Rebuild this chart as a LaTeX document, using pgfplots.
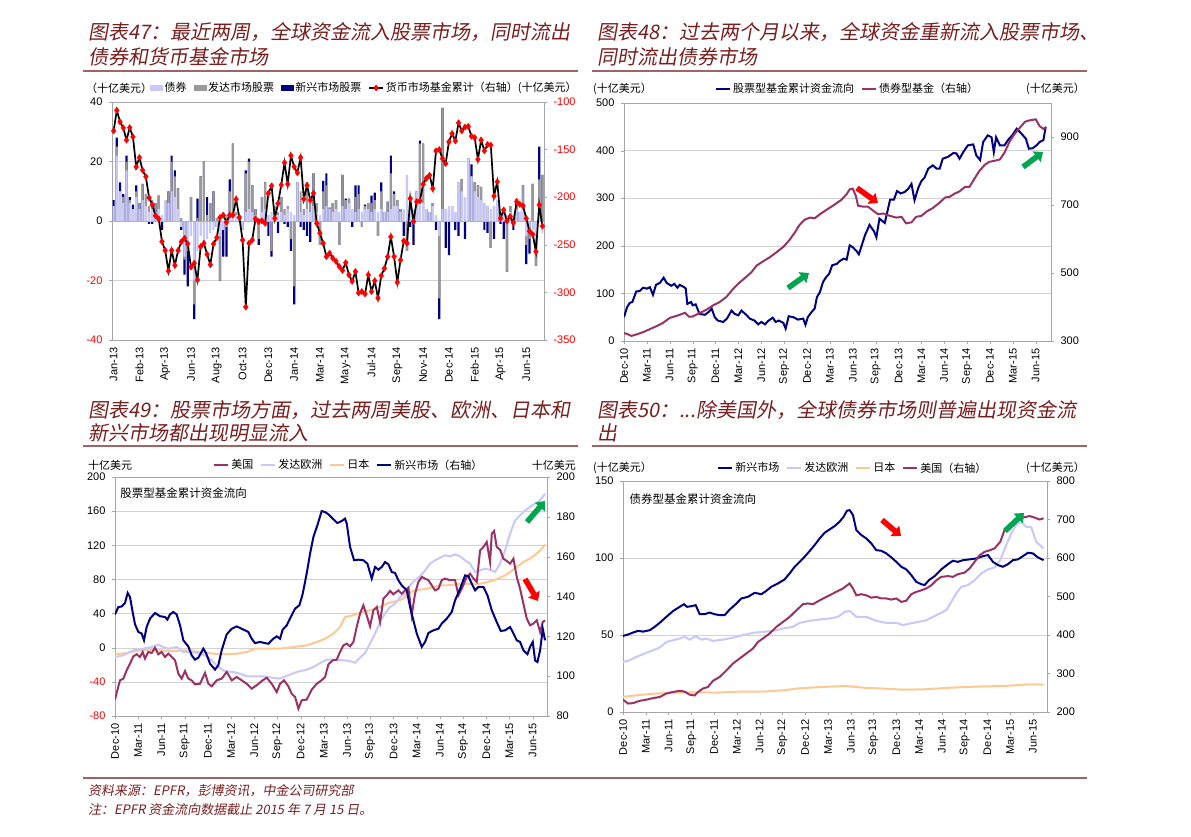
\documentclass[border=0pt]{standalone}
\usepackage{fontspec}
\usepackage{pgfplots}
\usepackage{pgfplotstable}
\pgfplotsset{compat=1.18}
\usetikzlibrary{arrows.meta}
\setmainfont{Liberation Sans}
\newfontfamily\cjk{Noto Sans CJK SC}
\newfontfamily\cjkit[FakeSlant=0.18]{Noto Sans CJK SC}
\definecolor{navy}{HTML}{000080}
\definecolor{lav}{HTML}{C8C8FA}
\definecolor{dgray}{HTML}{999999}
\definecolor{mar}{HTML}{993366}
\definecolor{peach}{HTML}{FFC891}
\definecolor{titlered}{HTML}{7A1F1F}
\definecolor{rulec}{HTML}{A06464}
\definecolor{agreen}{HTML}{00A550}

\pgfplotsset{
 base/.style={scale only axis, anchor=south west,
  axis line style={draw=gray!70}, tick style={draw=gray!70},
  major tick length=3pt, tick align=outside,
  grid style={draw=gray!35},
  ticklabel style={font=\fontsize{11}{13}\selectfont},
  /pgf/number format/assume math mode=true,
  xticklabel style={rotate=90, anchor=east},
  yticklabel shift=3pt, xticklabel shift=1pt,
  xtick pos=bottom, ytick pos=left,
  legend style={draw=none, fill=none, legend columns=-1,
    font=\cjk\fontsize{11}{13}\selectfont, inner sep=0pt,
    /tikz/every even column/.append style={column sep=5pt}},
  legend cell align=left},
 rbase/.style={scale only axis, anchor=south west,
  axis x line=none, axis y line*=right,
  axis line style={draw=gray!70}, tick style={draw=gray!70},
  major tick length=3pt, tick align=outside, yticklabel shift=3pt,
  ticklabel style={font=\fontsize{11}{13}\selectfont},
  /pgf/number format/assume math mode=true},
 qticks/.style={xtick={0,3,...,54},
  xticklabels={Dec-10,Mar-11,Jun-11,Sep-11,Dec-11,Mar-12,Jun-12,Sep-12,Dec-12,Mar-13,Jun-13,Sep-13,Dec-13,Mar-14,Jun-14,Sep-14,Dec-14,Mar-15,Jun-15}}
}

\pgfplotstableread{
i L G N M
0 5 5 7 -130.3
1 22 25 28 -108.8
2 10 10 13 -120.9
3 6 8 9 -127.2
4 17 20 22 -140.0
5 6 7 8 -126.9
6 4 4 5.5 -136.6
7 8 10 12 -168.1
8 4 6 6 -158.4
9 7 12.5 12.5 -171.6
10 5 9 9 -178.4
11 3 5 -1 -200.6
12 4 7 -1 -208.1
13 3 6 6 -219.4
14 4 8.5 8.5 -222.8
15 2 1 -3 -246.6
16 7 7 7 -255.9
17 6 10 10 -277.5
18 10 20 22 -255.9
19 8 15 17 -271.6
20 4 11 11 -255.9
21 -2 1 -3 -246.9
22 -12 -13 -18 -243.1
23 -8 -10 -22 -249.1
24 -5 8 8 -273.4
25 -20 -28 -33 -269.4
26 -10 1 7.5 -286.9
27 -5 15 15 -251.9
28 -8 20 20 -248.4
29 -6 2 8 -260.0
30 -4 6 6 -270.9
31 -3 10 10 -249.1
32 -2 1 -2 -242.5
33 -5 -20 -20 -221.3
34 -3 -3 -12 -218.8
35 -2 2 -12 -226.3
36 2 10 14 -218.8
37 3 26 26 -218.8
38 2 3 3 -202.2
39 1 2 2 -221.3
40 -3 -2 -3 -245.0
41 3 16 17 -315.3
42 4 20 21 -248.4
43 3 12 12 -245.0
44 2 4 4 -222.8
45 1 -6 -8 -225.6
46 3 8 8 -224.7
47 4 13 13 -227.5
48 2 2 -5 -195.9
49 3 -10 -12 -188.1
50 3 5 5 -222.2
51 2 3 -4 -206.6
52 3 8 8 -187.2
53 2 4 -1 -163.8
54 4 5 -2 -186.3
55 3 -6 -10 -156.3
56 2 -22 -28 -168.1
57 13 13 13 -174.4
58 3 10 -2 -158.4
59 2 4 -3 -201.9
60 4 13 -5 -187.5
61 3 6 -7 -203.1
62 5 16 16 -195.9
63 3 6 6 -227.5
64 2 -8 -8 -237.8
65 4 10 13.5 -248.4
66 5 12 16 -262.5
67 4 4.5 4.5 -258.8
68 3 6 6 -264.1
69 4 7 7 -267.5
70 3 -8 -8 -272.8
71 5 15.5 15.5 -276.9
72 4 7 7.5 -268.8
73 6 7.5 7.5 -281.6
74 4 4 -2 -288.4
75 3 8 12 -278.1
76 4 9 12 -300.6
77 3 -2 -2 -299.1
78 4 5 5.5 -301.6
79 4 6 6 -281.6
80 3 6 8.5 -299.1
81 4 7 9.5 -287.8
82 3 -5 -5 -305.9
83 4 10 13 -282.5
84 3 3 3 -274.7
85 3 6.5 6.5 -262.5
86 4 16 22 -241.6
87 5 9 10 -262.5
88 5 7 7 -289.4
89 3 4 4 -265.9
90 4 3 -5 -245.9
91 15.5 -10 -10 -248.4
92 5 6 -2 -201.3
93 4 4 -8 -225.6
94 10 10 10 -204.7
95 8 26 27 -203.8
96 6 26 26 -186.3
97 4 4 4 -180.3
98 3 3 3 -176.9
99 5 6 6 -190.9
100 2 1 -3 -151.3
101 -5 -26 -33 -150.0
102 4 38 38 -159.4
103 4 4 -9 -164.7
104 5 4 -11.5 -141.9
105 5 5 5 -133.1
106 3 3 -3 -140.9
107 13 13 -5 -121.9
108 10 14 14 -130.3
109 8 8 -6 -126.3
110 21 21 21 -125.6
111 15 15 19 -135.9
112 10 13 13 -137.5
113 8 12 12 -160.3
114 7 11.5 11.5 -140.0
115 6 6 -3 -151.3
116 5 5 -4 -144.7
117 4 -9 -9 -145.3
118 5 5 -6 -198.8
119 7 7 7 -183.8
120 3 3 -1 -222.2
121 3 3 -6 -213.4
122 2 -17 -17 -225.0
123 3 5 5 -220.3
124 2 2 -3 -226.9
125 4 6 7.5 -204.7
126 3 3 3 -207.5
127 4 12 12 -209.1
128 -5 -8 -14.5 -222.2
129 -4 -6 -11 -235.6
130 -3 12.5 12.5 -239.1
131 -6 -15 -15 -257.2
132 5 14 25 -208.1
133 -4 15.5 15.5 -230.3
}\pA

\begin{document}
\begin{tikzpicture}
\useasboundingbox (0,0) rectangle (1191pt,-837pt);
\fill[white] (0,0) rectangle (1191pt,-837pt);

% ---------- titles and rules ----------
\tikzset{ttl/.style={anchor=west, inner sep=0pt, text=titlered, font=\cjkit\fontsize{20}{24}\selectfont}}
\node[ttl] at (88pt,-32pt) {图表47：最近两周，全球资金流入股票市场，同时流出};
\node[ttl] at (88pt,-57pt) {债券和货币基金市场};
\node[ttl] at (597pt,-32pt) {图表48：过去两个月以来，全球资金重新流入股票市场、};
\node[ttl] at (597pt,-57pt) {同时流出债券市场};
\node[ttl] at (88pt,-410pt) {图表49：股票市场方面，过去两周美股、欧洲、日本和};
\node[ttl] at (88pt,-433pt) {新兴市场都出现明显流入};
\node[ttl] at (597pt,-410pt) {图表50：...除美国外，全球债券市场则普遍出现资金流};
\node[ttl] at (597pt,-433pt) {出};
\draw[rulec, line width=1.5pt] (83pt,-71pt) -- (578pt,-71pt);
\draw[rulec, line width=1.5pt] (592pt,-71pt) -- (1087pt,-71pt);
\draw[rulec, line width=1.5pt] (83pt,-446pt) -- (578pt,-446pt);
\draw[rulec, line width=1.5pt] (592pt,-446pt) -- (1087pt,-446pt);
\draw[rulec, line width=1.5pt] (83pt,-778pt) -- (1087pt,-778pt);
\node[anchor=west, inner sep=0pt, text=titlered, font=\cjkit\fontsize{13}{16}\selectfont] at (88pt,-791pt) {资料来源：EPFR，彭博资讯，中金公司研究部};
\node[anchor=west, inner sep=0pt, text=titlered, font=\cjkit\fontsize{13}{16}\selectfont] at (88pt,-810pt) {注：EPFR 资金流向数据截止 2015 年 7 月 15 日。};

\tikzset{unit/.style={inner sep=0pt, font=\cjk\fontsize{11}{13}\selectfont}}
% ---------- panel 1 ----------
\node[unit, anchor=west] at (86pt,-88pt) {（十亿美元）};
\begin{axis}[base, at={(112pt,-340pt)}, width=432pt, height=238pt,
  xmin=-0.5, xmax=133.5, ymin=-40, ymax=40,
  ytick={-40,-20,0,20,40}, yticklabels={\textcolor{red}{-40},\textcolor{red}{-20},0,20,40},
  ymajorgrids, xtick={0,8,...,128},
  xticklabels={Jan-13,Feb-13,Apr-13,Jun-13,Aug-13,Oct-13,Dec-13,Jan-14,Mar-14,May-14,Jul-14,Sep-14,Nov-14,Dec-14,Feb-15,Apr-15,Jun-15},
  xtick style={draw=none},
  legend style={at={(0.088,1.059)}, anchor=west}]
\addlegendimage{legend image code/.code={\fill[lav] (0pt,-2.5pt) rectangle (12pt,2.5pt);}}
\addlegendentry{债券}
\addlegendimage{legend image code/.code={\fill[dgray] (0pt,-2.5pt) rectangle (12pt,2.5pt);}}
\addlegendentry{发达市场股票}
\addlegendimage{legend image code/.code={\fill[navy] (0pt,-2.5pt) rectangle (12pt,2.5pt);}}
\addlegendentry{新兴市场股票}
\addlegendimage{legend image code/.code={\draw[black, line width=1.5pt] (0pt,0pt) -- (14pt,0pt); \fill[red] (7pt,3pt) -- (9.5pt,0pt) -- (7pt,-3pt) -- (4.5pt,0pt) -- cycle;}}
\addlegendentry{货币市场基金累计（右轴）(十亿美元）}
\addplot[ybar, bar width=2.2pt, bar shift=0pt, fill=navy, draw=none, forget plot] table[x=i, y=N] {\pA};
\addplot[ybar, bar width=2.2pt, bar shift=0pt, fill=dgray, draw=none, forget plot] table[x=i, y=G] {\pA};
\addplot[ybar, bar width=2.2pt, bar shift=0pt, fill=lav, draw=none, forget plot] table[x=i, y=L] {\pA};
\draw[gray!60] (axis cs:-0.5,0) -- (axis cs:133.5,0);
\end{axis}
\begin{axis}[rbase, at={(112pt,-340pt)}, width=432pt, height=238pt,
  xmin=-0.5, xmax=133.5, ymin=-350, ymax=-100,
  ytick={-350,-300,...,-100}, yticklabel style={text=red}, clip=false]
\addplot[black, line width=1.7pt, mark=diamond*, mark size=3.2pt,
  mark options={fill=red, draw=red, solid, line width=0.3pt}] table[x=i, y=M] {\pA};
\end{axis}

% ---------- panel 2 ----------
\node[unit, anchor=west] at (593pt,-89pt) {(十亿美元）};
\node[unit, anchor=east] at (1085pt,-89pt) {(十亿美元）};
\begin{axis}[base, qticks, at={(624pt,-341pt)}, width=427pt, height=238pt,
  xmin=0, xmax=56, ymin=0, ymax=500, ytick={0,100,...,500}, ymajorgrids,
  legend style={at={(0.213,1.059)}, anchor=west}]
\addlegendimage{legend image code/.code={\draw[navy, line width=2pt] (0pt,0pt) -- (14pt,0pt);}}
\addlegendentry{股票型基金累计资金流向}
\addlegendimage{legend image code/.code={\draw[mar, line width=2pt] (0pt,0pt) -- (14pt,0pt);}}
\addlegendentry{债券型基金（右轴）}
\addplot[navy, line width=2pt, forget plot] coordinates {
(0,50)(0.4,71)(0.75,80)(1.1,82)(1.6,104)(2.05,105)(2.5,112)(3,110)(3.4,113)(3.8,97)(4.2,118)(4.7,122)(5.2,133)(5.6,122)(6.2,116)(6.6,120)(7,112)(7.3,118)(7.9,113)(8.1,110)(8.3,78)(8.8,82)(9.0,75)(9.4,77)(9.9,57)(10.6,55)(11.1,61)(11.5,68)(11.9,50)(12.3,43)(13,40)(13.5,47)(14.1,64)(14.5,57)(15,54)(15.4,64)(16.1,54)(16.5,47)(17.1,43)(17.6,35)(18,40)(18.5,35)(18.9,42)(19.5,49)(19.9,40)(20.3,43)(20.9,38)(21.2,26)(21.6,52)(22.2,50)(22.8,45)(23.5,47)(23.8,34)(24.1,50)(24.6,61)(25,68)(25.3,92)(25.7,103)(26.1,124)(26.5,134)(26.9,141)(27.3,159)(27.9,162)(28.3,168)(28.8,173)(29.2,171)(29.6,201)(30.0,197)(30.5,189)(30.8,182)(31.1,197)(31.6,222)(32.2,244)(32.8,230)(33.1,218)(33.5,257)(34.2,248)(34.9,297)(35.4,297)(35.8,315)(36.3,310)(36.8,313)(37.3,320)(37.7,330)(38.1,296)(38.6,322)(39,336)(39.4,343)(39.9,362)(40.5,369)(41,362)(41.4,362)(41.8,383)(42.5,387)(43.2,395)(43.6,394)(44,383)(44.5,397)(45.1,411)(45.8,413)(46.2,390)(46.7,380)(47.1,418)(47.7,432)(48.2,428)(48.5,397)(48.8,428)(49.3,411)(49.9,411)(50.4,423)(50.9,432)(51.5,446)(52.1,436)(52.7,425)(53.1,404)(53.6,405)(54.1,411)(54.5,418)(55,422)(55.3,450)};
\end{axis}
\begin{axis}[rbase, at={(624pt,-341pt)}, width=427pt, height=238pt,
  xmin=0, xmax=56, ymin=300, ymax=1000, ytick={300,500,700,900}]
\addplot[mar, line width=2pt] coordinates {
(0,323)(0.4,321)(0.96,315)(1.6,319)(2.5,326)(3.4,335)(4.2,343)(5.1,353)(6,368)(6.6,372)(7.3,377)(8,383)(8.5,372)(9,372)(9.9,382)(10.8,392)(11.7,405)(12.5,414)(13.4,429)(14.3,453)(15.2,473)(16,488)(16.7,502)(17.4,522)(18.2,534)(19.1,546)(20,561)(20.9,577)(21.7,597)(22.4,619)(23,641)(23.7,657)(24.4,663)(25,661)(25.7,673)(26.5,685)(27.4,698)(28.5,715)(29.2,732)(29.6,746)(30.0,748)(30.4,727)(30.7,698)(31.4,695)(32,695)(32.7,683)(33.3,673)(34,675)(34.9,668)(35.7,663)(36.4,665)(37,646)(37.7,649)(38.3,665)(39,668)(39.7,681)(40.5,691)(41.4,707)(42.1,722)(42.7,724)(43.4,734)(44,740)(44.7,753)(45.3,753)(46,779)(46.6,800)(47.3,818)(47.9,827)(48.6,830)(49.3,834)(49.9,854)(50.6,888)(51.2,908)(51.9,927)(52.6,945)(53.2,949)(54,952)(54.5,932)(55,924)(55.4,929)};
\end{axis}

% ---------- panel 3 ----------
\node[unit, anchor=west] at (88pt,-465pt) {十亿美元};
\node[unit, anchor=east] at (576pt,-465pt) {十亿美元};
\begin{axis}[base, qticks, at={(115pt,-716pt)}, width=432pt, height=239pt,
  xmin=0, xmax=55.85, ymin=-80, ymax=200,
  ytick={-80,-40,0,40,80,120,160,200},
  yticklabels={\textcolor{red}{-80},\textcolor{red}{-40},0,40,80,120,160,200},
  ymajorgrids,
  legend style={at={(0.227,1.050)}, anchor=west}]
\addlegendimage{legend image code/.code={\draw[mar, line width=2pt] (0pt,0pt) -- (14pt,0pt);}}
\addlegendentry{美国}
\addlegendimage{legend image code/.code={\draw[lav, line width=2pt] (0pt,0pt) -- (14pt,0pt);}}
\addlegendentry{发达欧洲}
\addlegendimage{legend image code/.code={\draw[peach, line width=2pt] (0pt,0pt) -- (14pt,0pt);}}
\addlegendentry{日本}
\addlegendimage{legend image code/.code={\draw[navy, line width=2pt] (0pt,0pt) -- (14pt,0pt);}}
\addlegendentry{新兴市场（右轴）}
\node[anchor=north west, inner sep=0pt, font=\cjk\fontsize{11.5}{13}\selectfont] at (rel axis cs:0.012,0.955) {股票型基金累计资金流向};
\addplot[peach, line width=2pt, forget plot] coordinates {
(0,-7.7)(1.51,-6.2)(2.80,-3.9)(4.09,-2.3)(5.82,-3.1)(7.54,-3.9)(9.27,-3.1)(10.99,-5.0)(12.72,-7.0)(14.44,-7.7)(15.73,-7.0)(17.03,-5.0)(18.10,-1.1)(19.61,-1.1)(21.34,-1.1)(23.06,0.8)(24.78,2.7)(26.08,6.7)(27.16,10.6)(28.23,16.5)(29.09,24.3)(29.74,36.0)(30.82,38.0)(31.90,41.9)(32.97,43.8)(34.27,47.7)(35.34,52.4)(36.42,54.7)(37.28,57.5)(37.93,63.3)(38.58,66.5)(39.44,68.0)(40.30,69.1)(41.16,71.1)(42.03,73.1)(42.89,73.1)(44.18,74.2)(45.47,75.0)(46.77,74.2)(47.63,75.8)(48.92,78.9)(50.22,83.7)(51.08,88.7)(51.94,94.6)(52.80,100.4)(53.66,104.3)(54.53,110.2)(55.17,116.0)(55.60,121.1)};
\addplot[lav, line width=2pt, forget plot] coordinates {
(0,-10.9)(1.08,-8.9)(2.37,-3.0)(3.66,-1.1)(4.74,0.8)(5.60,3.5)(6.25,0.8)(6.90,-1.1)(7.97,0.8)(8.84,-5.0)(9.70,-5.0)(10.78,-6.2)(11.64,-8.9)(12.50,-14.8)(13.36,-22.6)(14.22,-27.6)(15.30,-28.4)(16.16,-30.4)(17.03,-33.5)(18.10,-33.5)(19.18,-33.5)(20.26,-35.1)(21.34,-36.2)(22.41,-32.3)(23.49,-28.4)(24.78,-25.7)(25.65,-22.6)(26.51,-18.0)(27.37,-14.0)(28.23,-14.0)(29.53,-14.8)(30.39,-15.6)(31.03,-17.6)(31.68,-11.6)(32.33,-6.2)(32.97,4.8)(33.62,16.5)(34.27,30.1)(34.91,40.1)(35.56,47.7)(36.21,51.6)(36.85,59.4)(37.5,63.3)(38.15,73.1)(38.79,79.1)(39.44,83.7)(40.09,90.7)(40.73,98.5)(41.38,102.4)(42.03,105.5)(42.67,108.2)(43.32,107.0)(43.97,109.4)(44.61,107.0)(45.26,102.4)(45.91,98.5)(46.55,88.7)(47.2,90.7)(47.84,92.6)(48.49,91.5)(49.14,88.7)(49.78,98.5)(50.43,114.1)(51.08,133.6)(51.72,149.2)(52.37,155.1)(53.02,160.9)(53.66,164.9)(54.31,168.8)(54.96,172.7)(55.60,180.5)};
\addplot[mar, line width=2pt, forget plot] coordinates {
(0,-60.8)(0.30,-49.9)(0.65,-38.2)(1.08,-36.2)(1.51,-26.5)(1.94,-18.7)(2.37,-10.1)(2.80,-7.7)(3.23,-10.9)(3.58,-5.0)(3.88,-12.8)(4.31,-5.0)(4.74,-6.2)(5.17,0.0)(5.60,-7.7)(6.03,-5.0)(6.47,-10.9)(6.90,-7.0)(7.33,-10.9)(7.76,-14.8)(8.19,-30.4)(8.62,-36.2)(9.05,-27.3)(9.48,-36.2)(9.91,-38.2)(10.34,-42.9)(10.99,-42.2)(11.64,-29.6)(12.07,-42.2)(12.50,-45.2)(13.15,-38.2)(13.79,-36.2)(14.44,-28.4)(15.09,-38.2)(15.73,-34.3)(16.38,-38.2)(17.03,-42.2)(17.67,-48.0)(18.32,-44.0)(18.97,-39.0)(19.61,-35.1)(20.26,-42.2)(20.91,-52.0)(21.34,-42.2)(21.85,-38.2)(22.41,-45.2)(22.84,-53.8)(23.28,-57.7)(23.71,-71.4)(24.14,-61.6)(24.78,-60.8)(25.43,-49.1)(26.08,-42.2)(26.59,-39.0)(27.16,-34.3)(27.59,-19.4)(28.15,-14.8)(28.66,-14.0)(29.09,-5.0)(29.53,2.7)(29.96,4.8)(30.39,1.6)(30.82,6.7)(31.25,24.3)(31.68,40.1)(32.11,49.7)(32.54,38.0)(32.97,25.1)(33.41,43.8)(33.84,47.7)(34.27,30.1)(34.70,57.5)(35.13,61.4)(35.56,66.5)(35.99,62.6)(36.64,67.2)(37.07,63.3)(37.5,67.2)(37.93,70.4)(38.36,38.0)(38.79,63.3)(39.22,77.0)(39.66,82.9)(40.09,81.0)(40.52,79.1)(40.95,73.1)(41.38,67.2)(41.81,69.1)(42.24,79.1)(42.67,81.0)(43.32,79.1)(43.97,79.1)(44.40,61.4)(44.83,69.1)(45.47,82.9)(45.91,86.8)(46.34,81.0)(46.77,77.0)(47.2,114.1)(47.63,118.0)(48.06,123.9)(48.49,100.4)(48.71,133.6)(49.01,136.7)(49.35,118.0)(49.78,114.9)(50.22,104.3)(50.65,101.6)(51.08,98.5)(51.51,104.3)(51.94,82.9)(52.37,69.1)(52.80,51.6)(53.23,34.1)(53.66,26.2)(54.09,28.2)(54.53,32.1)(54.96,18.4)(55.30,30.1)(55.60,32.1)};
\end{axis}
\begin{axis}[rbase, at={(115pt,-716pt)}, width=432pt, height=239pt,
  xmin=0, xmax=55.85, ymin=80, ymax=200, ytick={80,100,...,200}]
\addplot[navy, line width=2pt] coordinates {
(0,131.0)(0.43,134.7)(0.86,135.0)(1.29,136.7)(1.64,141.8)(1.94,139.7)(2.28,132.2)(2.59,126.0)(3.02,122.2)(3.45,121.4)(3.75,118.0)(4.09,124.7)(4.53,128.9)(5.17,131.7)(5.82,130.1)(6.47,129.7)(6.77,128.4)(7.11,131.0)(7.54,132.2)(7.97,131.0)(8.41,125.5)(8.84,118.0)(9.48,114.9)(9.91,110.5)(10.34,108.3)(10.78,109.3)(11.42,113.8)(11.77,111.6)(12.28,106.3)(12.93,103.3)(13.36,105.5)(13.79,113.0)(14.44,121.0)(15.09,123.8)(15.73,125.0)(16.59,123.4)(17.24,122.2)(17.67,118.8)(18.10,116.6)(18.75,117.2)(19.40,116.6)(19.83,116.3)(20.47,118.8)(20.91,120.0)(21.34,118.8)(21.68,123.4)(22.20,125.5)(22.72,129.7)(23.28,133.9)(23.84,135.6)(24.27,141.4)(24.78,151.5)(25.22,161.5)(25.65,169.9)(26.16,175.7)(26.72,182.9)(27.16,182.4)(27.59,181.3)(28.15,179.1)(28.75,176.9)(29.31,177.9)(29.74,179.1)(29.96,176.6)(30.39,164.9)(30.91,158.2)(31.47,158.5)(32.11,158.2)(32.63,156.5)(33.19,149.0)(33.62,154.8)(34.05,153.5)(34.48,154.8)(34.91,157.3)(35.34,156.2)(35.78,152.3)(36.21,151.8)(36.64,148.1)(37.07,145.6)(37.72,143.1)(38.15,134.7)(38.58,128.0)(39.01,121.4)(39.66,114.7)(40.09,117.2)(40.52,121.7)(41.16,123.0)(41.81,123.8)(42.24,126.4)(42.89,128.9)(43.53,132.2)(43.97,138.1)(44.61,143.9)(45.26,150.6)(45.69,150.2)(46.12,146.4)(46.55,143.1)(46.98,144.8)(47.63,144.8)(48.15,140.6)(48.71,133.1)(49.35,127.2)(49.87,122.7)(50.43,123.0)(51.08,124.7)(51.51,121.4)(51.94,118.0)(52.37,117.2)(52.80,113.0)(53.32,111.0)(53.66,114.7)(54.01,117.2)(54.31,107.9)(54.61,107.1)(54.96,113.0)(55.30,123.8)(55.60,118.0)};
\end{axis}

% ---------- panel 4 ----------
\node[unit, anchor=west] at (593pt,-468pt) {(十亿美元）};
\node[unit, anchor=east] at (1085pt,-468pt) {(十亿美元）};
\begin{axis}[base, qticks, at={(623pt,-712pt)}, width=424pt, height=231pt,
  xmin=0, xmax=55.85, ymin=0, ymax=150, ytick={0,50,100,150}, ymajorgrids,
  legend style={at={(0.222,1.056)}, anchor=west}]
\addlegendimage{legend image code/.code={\draw[navy, line width=2pt] (0pt,0pt) -- (14pt,0pt);}}
\addlegendentry{新兴市场}
\addlegendimage{legend image code/.code={\draw[lav, line width=2pt] (0pt,0pt) -- (14pt,0pt);}}
\addlegendentry{发达欧洲}
\addlegendimage{legend image code/.code={\draw[peach, line width=2pt] (0pt,0pt) -- (14pt,0pt);}}
\addlegendentry{日本}
\addlegendimage{legend image code/.code={\draw[mar, line width=2pt] (0pt,0pt) -- (14pt,0pt);}}
\addlegendentry{美国（右轴）}
\node[anchor=north west, inner sep=0pt, font=\cjk\fontsize{11.5}{13}\selectfont] at (rel axis cs:0.015,0.945) {债券型基金累计资金流向};
\addplot[peach, line width=2pt, forget plot] coordinates {
(0,9.8)(2.19,11.1)(4.39,12.0)(7.02,12.6)(9.66,12.8)(12.29,12.6)(15.36,13.2)(18.44,13.2)(21.07,14.1)(23.27,15.4)(26.34,16.3)(29.41,16.9)(31.61,15.8)(34.24,15.2)(36.87,14.5)(39.51,14.7)(42.58,15.6)(45.22,16.3)(48.29,16.7)(50.92,17.1)(53.56,18.0)(55.40,17.8)};
\addplot[lav, line width=2pt, forget plot] coordinates {
(0,32.5)(0.88,33.6)(1.76,35.8)(2.85,38.0)(3.95,40.1)(4.83,41.8)(5.71,45.5)(6.58,46.6)(7.46,47.7)(8.12,48.8)(8.78,47.0)(9.57,49.2)(10.32,47.0)(10.97,47.7)(11.85,46.2)(13.17,47.0)(14.49,48.3)(15.80,49.9)(17.12,51.4)(18.44,52.0)(19.75,52.7)(21.07,54.2)(22.39,55.3)(23.27,57.9)(24.58,59.2)(25.90,60.1)(27.22,60.7)(28.31,61.8)(29.19,65.0)(29.85,65.7)(30.73,61.8)(32.05,61.8)(33.36,59.2)(34.68,57.9)(36.0,57.9)(36.87,56.4)(37.75,57.4)(38.85,58.5)(39.95,59.6)(40.83,61.8)(41.70,63.9)(42.58,66.1)(43.24,71.5)(43.9,77.0)(44.56,81.3)(45.43,82.4)(46.31,85.6)(47.19,90.0)(48.07,92.6)(48.95,93.9)(49.69,98.6)(50.48,108.4)(51.14,116.0)(51.80,121.4)(52.46,123.6)(53.12,120.3)(53.78,119.9)(54.43,110.5)(55.40,106.2)};
\addplot[navy, line width=2pt, forget plot] coordinates {
(0,49.4)(0.66,50.3)(1.32,51.6)(1.98,52.7)(2.63,52.2)(3.51,53.1)(4.17,55.3)(4.83,57.9)(5.71,61.8)(6.58,65.5)(7.46,68.3)(8.03,70.0)(8.43,68.3)(9.0,68.7)(9.57,69.4)(10.10,63.5)(10.76,63.5)(11.41,64.6)(12.07,63.5)(12.73,62.9)(13.39,62.9)(14.05,66.5)(14.93,70.4)(15.58,73.7)(16.46,74.8)(17.34,77.4)(18.22,76.5)(18.88,78.7)(19.53,81.3)(20.41,83.5)(21.29,86.1)(21.95,90.0)(22.61,94.3)(23.27,97.5)(23.92,100.8)(24.58,104.5)(25.24,108.4)(25.90,112.7)(26.56,116.4)(27.22,118.6)(27.88,120.7)(28.53,123.6)(29.06,126.8)(29.50,130.7)(29.85,131.1)(30.29,127.9)(30.73,118.1)(31.39,114.9)(32.05,112.7)(32.70,109.5)(33.36,105.1)(34.02,104.7)(34.68,103.0)(35.34,100.4)(36.00,97.5)(36.66,94.3)(37.31,92.6)(37.97,88.9)(38.63,84.5)(39.29,83.0)(39.73,82.4)(40.30,85.6)(41.04,88.2)(41.92,92.6)(42.80,96.0)(43.46,98.2)(44.12,97.5)(44.78,98.6)(45.65,99.1)(46.53,99.7)(47.41,101.2)(48.07,101.9)(48.73,97.5)(49.39,95.4)(50.04,94.3)(50.70,96.0)(51.36,98.6)(52.02,99.1)(52.68,101.2)(53.34,103.4)(53.99,103.0)(54.65,100.4)(55.40,98.6)};
\end{axis}
\begin{axis}[rbase, at={(623pt,-712pt)}, width=424pt, height=231pt,
  xmin=0, xmax=55.85, ymin=200, ymax=800, ytick={200,300,...,800}]
\addplot[mar, line width=2pt] coordinates {
(0,232)(0.66,222)(1.32,223)(2.19,229)(3.07,232)(3.95,236)(4.83,239)(5.71,248)(6.58,252)(7.46,255)(8.12,253)(8.78,245)(9.44,243)(9.88,252)(10.54,261)(11.19,265)(11.85,281)(12.73,291)(13.61,308)(14.49,326)(15.36,339)(16.24,352)(17.12,365)(17.78,382)(18.44,391)(19.32,404)(20.19,421)(21.07,434)(21.95,447)(22.83,464)(23.71,480)(24.36,482)(25.02,480)(25.90,490)(26.78,499)(27.88,510)(28.97,521)(29.85,534)(30.29,521)(30.73,503)(31.39,506)(32.05,503)(32.70,497)(33.36,499)(34.02,495)(34.68,495)(35.34,492)(36.0,495)(36.66,486)(37.31,489)(37.97,506)(38.63,512)(39.29,516)(39.95,521)(40.61,529)(41.26,542)(41.92,551)(42.80,553)(43.46,551)(44.12,558)(45.0,562)(45.65,573)(46.31,590)(46.97,607)(47.63,616)(48.29,620)(48.95,625)(49.69,642)(50.26,673)(50.92,688)(51.80,697)(52.68,705)(53.56,709)(54.21,705)(54.87,700)(55.40,703)};
\end{axis}

% ---------- arrows ----------
\tikzset{blk/.style={line width=5.5pt, -{Triangle[length=8pt, width=13pt]}}}
\draw[blk, red] (857pt,-188pt) -- (878pt,-203pt);
\draw[blk, agreen] (788pt,-288pt) -- (809pt,-273pt);
\draw[blk, agreen] (1023pt,-167pt) -- (1043pt,-152pt);
\draw[blk, agreen] (527pt,-522pt) -- (545pt,-501pt);
\draw[blk, red] (525pt,-579pt) -- (538pt,-601pt);
\draw[blk, red] (882pt,-520pt) -- (901pt,-536pt);
\draw[blk, agreen] (1005pt,-531pt) -- (1024pt,-513pt);
\end{tikzpicture}
\end{document}
